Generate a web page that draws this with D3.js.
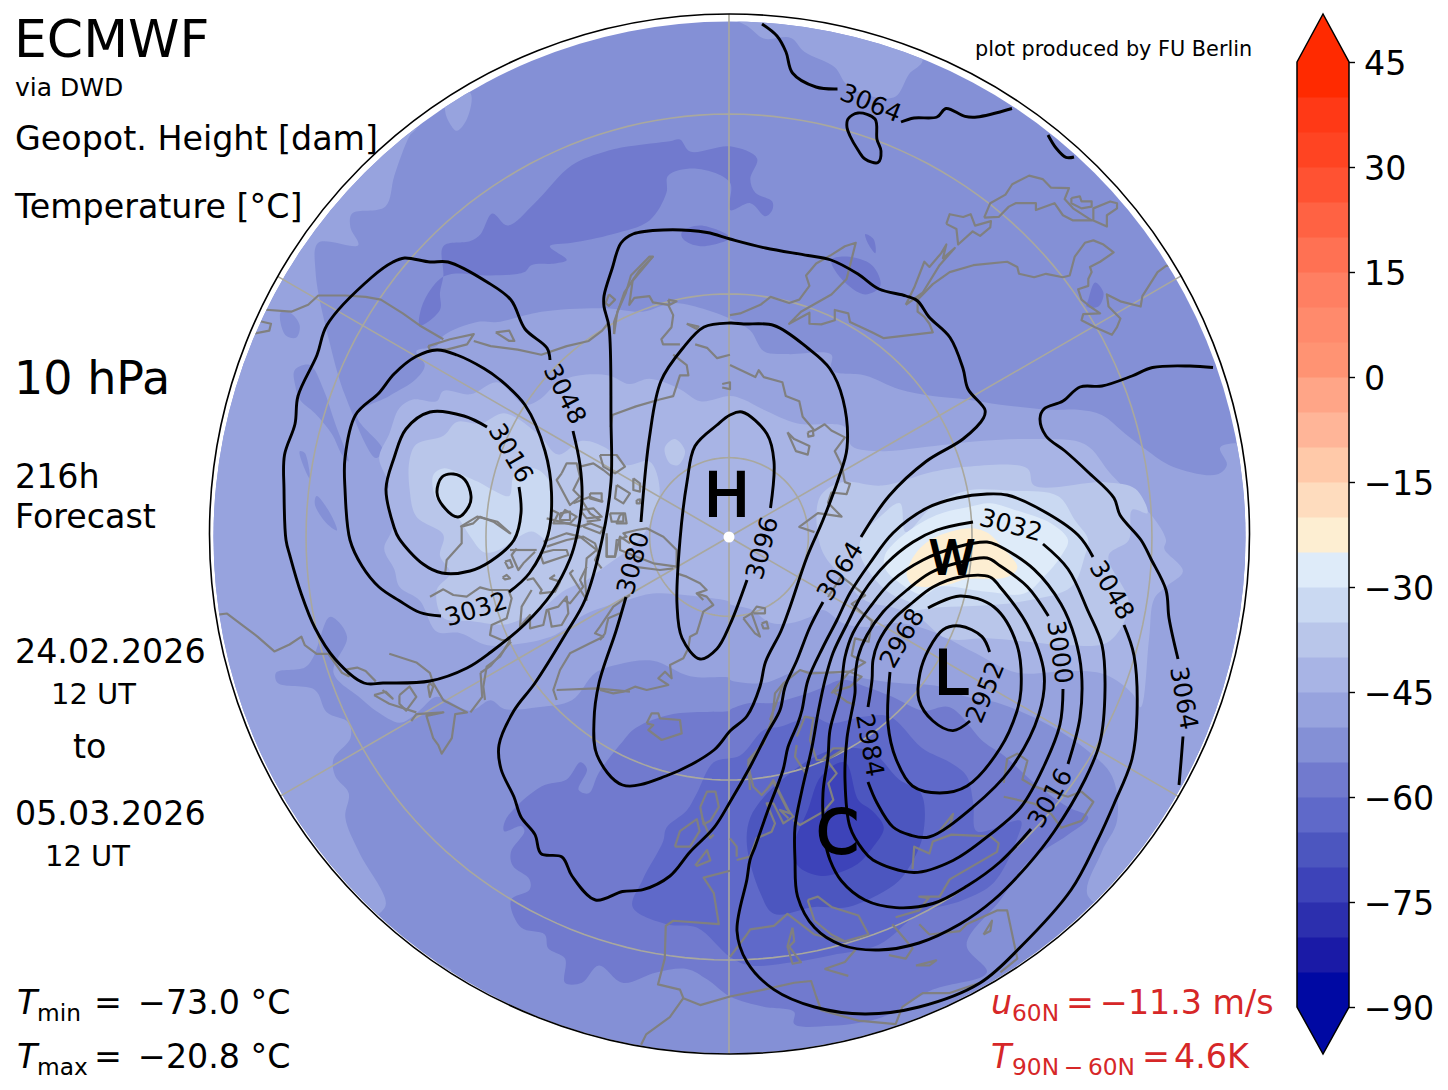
<!DOCTYPE html>
<html><head><meta charset="utf-8">
<script src="https://cdn.jsdelivr.net/npm/d3@7"></script>
<style>
html,body{margin:0;padding:0;background:#fff}
svg{display:block}
text{font-family:"DejaVu Sans",sans-serif;fill:#000}
</style></head><body><svg id="c" width="1448" height="1090"></svg>
<script>
// digitising sheets: each maps a quadrant sheet's grid onto pole-centred map units
const sheet=(kx,ox,ky,oy)=>pts=>pts.map(p=>[kx*p[0]+ox,ky*p[1]+oy]);
const nw=sheet(.338,-529,.3444,-537),ne=sheet(.338,1,.3444,-537),sw=sheet(.338,-529,.3444,-2),se=sheet(.338,1,.3444,-2);
const z7=sheet(1/3,61,1/3,-57),z8=sheet(1/3,1,1/3,123),z9=sheet(1/3,-189,1/3,-97),za=sheet(1/3,-299,1/3,-37),zb=sheet(1/3,-129,1/3,53);

// colour bar
const cbarLevels=d3.range(-90,45,5);
const cbarColors=["#0009a3","#1a1aa6","#2c2fae","#3d43b9","#4c56bf","#5f69c9","#717ace","#8490d6","#97a3de","#a8b4e5","#b9c6ea","#cad9f2","#deebf9","#fdeed2","#fedcbe","#ffc9a9","#ffb598","#ffa587","#ff9373","#ff8a6c","#ff7f62","#ff7153","#ff6243","#ff5232","#ff4422","#ff3916","#ff2a00"];
const cbarTicks=[-90,-75,-60,-45,-30,-15,0,15,30,45];

// temperature regions, painted in this order
const tBase=-55;
const t50West=[[...nw([[640,370],[620,395],[575,510],[548,600],[450,620],[445,660],[468,712],[350,705],[342,790],[385,1000],[430,1150],[520,1330],[540,1305],[465,1205],[560,1150],[640,1100],[665,1060],[640,1020],[700,1005],[720,975],[820,935],[880,935],[1010,905],[1200,895],[1310,905],[1400,880],[1500,900],[1568,925]]),
 ...ne([[60,960],[100,1020],[170,1028],[300,1030],[300,1075],[400,1090],[500,1130],[600,1150],[700,1160],[800,1175],[950,1190],[1030,1190],[1100,1205],[1170,1260],[1230,1305],[1310,1355],[1440,1378],[1470,1350],[1450,1300],[1510,1285],[1600,1280]]),
 ...se([[1650,300],[1600,700],[1300,1100],[1060,1050],[1100,920],[1145,830],[1130,700],[1050,620],[950,555],[800,490],[700,470],[620,440],[500,430],[420,420],[300,400],[200,395],[100,430],[0,420]]),
 ...sw([[1568,415],[1450,410],[1340,365],[1240,375],[1170,400],[1100,480],[1000,500],[900,505],[860,480],[800,510],[700,470],[660,500],[625,530],[590,545],[520,510],[470,470],[395,400],[435,295],[395,240],[380,240],[335,355],[310,385],[225,400],[230,430],[340,450],[375,515],[440,545],[445,590],[395,650],[400,700],[440,750],[430,820],[470,920],[550,1070],[525,1105],[470,1150],[200,1000],[-50,500],[-60,0]]),
 ...nw([[-60,1000],[100,600],[400,300]])]];
const t50Top=[ne([[-40,30],[50,75],[100,112],[180,110],[220,150],[310,195],[345,245],[420,280],[490,280],[530,215],[570,175],[500,60],[200,0]]),
 nw([[725,320],[740,360],[760,380],[790,345],[800,270],[740,260]]),
 sw([[540,1115],[640,1205],[745,1265],[640,1240]])];
const t55Holes=[nw([[240,905],[270,910],[295,945],[285,980],[255,975],[238,935]]),
 nw([[280,1075],[325,1060],[365,1130],[400,1230],[440,1340],[420,1320],[390,1260],[340,1200],[295,1160],[282,1120]]),
 nw([[295,1310],[310,1315],[325,1390],[305,1350]]),
 nw([[345,1440],[385,1490],[405,1540],[375,1520],[340,1465]])];
const t45Center=[[...nw([[1005,1160],[1060,1110],[1120,1090],[1210,1090],[1270,1115],[1330,1100],[1420,1130],[1480,1165],[1568,1150]]),
 ...ne([[40,1160],[100,1190],[200,1230],[340,1240],[360,1295],[450,1310],[560,1300],[650,1290],[750,1280],[920,1275],[1050,1290],[1130,1380],[1250,1500],[1290,1568]]),
 ...se([[1285,40],[1340,105],[1290,150],[1255,185],[1240,300],[1215,500],[1190,460],[1110,405],[1000,395],[850,400],[720,340],[612,285],[503,256],[405,267],[334,256],[275,218],[237,238],[177,256],[120,255],[60,215],[0,200]]),
 ...sw([[1568,195],[1440,175],[1340,170],[1260,190],[1140,230],[1050,290],[950,315],[850,320],[770,285],[700,280],[650,190],[590,150],[575,100],[545,40]]),
 ...nw([[570,1530],[550,1430],[560,1410],[530,1330],[560,1260],[590,1185],[630,1160],[700,1165],[720,1135],[800,1145],[880,1110],[960,1175]])]];
const t40West=[[...nw([[620,1335],[640,1290],[720,1265],[760,1225],[830,1230],[900,1200],[1000,1260],[1060,1320],[1130,1280],[1200,1300],[1260,1350],[1330,1340],[1360,1420],[1340,1500],[1300,1568]]),
 ...sw([[1200,90],[1145,130],[1080,160],[1010,215],[960,240],[900,260],[800,250],[720,240],[700,160],[740,110],[710,60],[720,0]]),
 ...nw([[640,1500],[620,1420]])],
 nw([[1375,1300],[1405,1275],[1435,1310],[1415,1350],[1390,1345]])];
const t40East=[[...ne([[265,1445],[330,1400],[450,1410],[600,1370],[700,1355],[880,1360],[900,1410],[1110,1400],[1200,1420],[1235,1490],[1190,1480],[1180,1568]]),
 ...se([[1120,60],[1180,200],[1120,310],[1000,320],[880,310],[760,300],[640,300],[560,240],[480,210],[400,190],[330,120],[270,40]])]];
const t35West=[[...nw([[690,1380],[720,1360],[790,1385],[835,1405],[870,1425],[915,1440],[930,1380],[990,1360],[1035,1400],[1040,1470],[1030,1568]]),
 ...sw([[980,-10],[880,45],[840,50],[800,5]]),...nw([[760,1500],[700,1450]])]];
const t35East=[[...ne([[520,1545],[600,1470],[700,1425],[830,1425],[970,1440],[1020,1510],[1060,1568]]),
 ...se([[1050,60],[1010,150],[880,190],[750,205],[620,210],[520,220]]),
 ...z7([[370,375],[300,340],[240,280],[210,220],[215,170],[270,110],[330,70]])]];
const t30East=[[...z7([[285,225],[340,165],[440,105],[540,80],[600,70]]),...ne([[840,1480],[950,1520],[1000,1568]]),
 ...se([[980,60],[930,120],[870,170],[760,165],[620,150]]),...z7([[400,345],[330,310],[285,265]])]];
const t25East=[[...z7([[350,285],[362,245],[390,205],[430,175],[500,150],[550,145],[595,160]]),
 ...se([[800,30],[850,95],[820,122],[700,128],[640,145],[540,145]])]];
const t60Patches=[[...nw([[720,715],[800,700],[830,680],[865,620],[910,655],[990,590],[1100,480],[1200,440],[1270,425],[1390,410],[1420,405],[1450,440],[1568,425]]),
 ...ne([[80,460],[60,520],[75,560],[125,585],[125,610],[105,628],[60,590],[0,610]]),
 ...nw([[1568,530],[1470,490],[1385,510],[1380,560],[1330,640],[1220,680],[1100,705],[1035,715],[1085,755],[1050,765],[980,770],[960,790],[860,800],[750,795],[710,810],[660,880],[650,945],[710,900],[710,850],[720,800]])],
 nw([[1425,675],[1480,655],[1568,690],[1480,715],[1430,695]]),
 ne([[300,755],[345,745],[420,770],[445,830],[400,855],[330,810]]),
 ne([[400,680],[425,695],[430,735],[410,710]]),
 ne([[1060,870],[1080,820],[1105,850],[1090,890],[1055,890]]),
 [...sw([[900,860],[905,825],[1010,730],[1085,710],[1125,660],[1145,680],[1120,740],[1150,750],[1180,690],[1250,600],[1290,560],[1400,520],[1568,510]]),
 ...se([[0,508],[59,488],[127,488],[197,470],[256,450],[335,420],[400,440],[480,470],[570,510],[650,500],[750,600],[810,640],[900,720],[1000,790],[1060,820],[1000,870],[880,950],[800,1060],[700,1190],[760,1270],[600,1320],[450,1400],[300,1425],[190,1420],[190,1385],[100,1370],[0,1340]]),
 ...sw([[1500,1290],[1440,1260],[1350,1270],[1250,1300],[1180,1250],[1130,1300],[1080,1300],[1080,1230],[1030,1200],[1020,1160],[950,1140],[920,1060],[975,1030],[975,1000],[925,960],[920,920],[960,860],[950,845]])]];
const t65South=[[...sw([[1520,660],[1470,750],[1440,800],[1380,850],[1370,890],[1310,1000],[1280,1080],[1380,1130],[1470,1140],[1568,1225]]),
 ...se([[60,1250],[190,1240],[300,1220],[440,1190],[560,1100],[690,1060],[780,1010],[850,880],[860,830],[730,860],[720,780],[700,700],[650,660],[570,620],[473,528],[394,528],[296,547],[246,528],[148,557],[100,566],[30,640]])]];
const t70South=[se([[60,820],[110,750],[180,690],[240,650],[320,620],[420,630],[500,710],[565,750],[570,875],[520,980],[480,1020],[350,1080],[250,1080],[130,1100],[90,1040],[50,900]])];
const t75South=[se([[190,900],[230,800],[270,700],[340,660],[380,770],[420,800],[455,850],[420,910],[370,960],[270,990],[200,960]])];

// coastlines
const coastNW=[[[175,898],[270,905],[320,885],[350,858],[430,858],[490,862],[535,870],[600,910],[650,945],[720,985]],
[[675,1005],[740,985],[810,970],[790,1000],[730,1015],[680,1015],[675,1005]],
[[810,990],[860,1005],[940,1015],[1010,1030],[1085,1005],[1150,990],[1190,960],[1210,935]],
[[875,965],[915,960],[930,990],[915,990],[875,965]],
[[165,930],[210,940],[205,960],[145,972]],
[[1210,855],[1228,870],[1210,888],[1200,880],[1210,855]],
[[1225,970],[1235,905],[1260,850],[1275,800],[1330,745],[1340,745],[1280,815],[1270,885],[1285,865],[1330,860],[1340,878],[1385,885],[1400,915],[1395,950],[1365,985],[1370,1000],[1420,1000]],
[[1225,970],[1225,935],[1255,850],[1300,785],[1340,745]],
[[1385,870],[1410,875],[1390,885],[1385,870]],
[[1440,940],[1475,948],[1470,955],[1440,940]],
[[1400,1030],[1440,1060],[1445,1090],[1420,1090],[1400,1150],[1360,1160],[1290,1180],[1220,1205],[1215,1240]],
[[1465,1000],[1500,1010],[1530,1040],[1568,1030]],
[[1545,1115],[1568,1110],[1568,1130],[1545,1125]],
[[770,1530],[820,1500],[880,1515],[920,1550]]];
const coastNE=[[[752,632],[770,590],[815,565],[835,535],[885,510],[925,520],[950,545],[1003,546],[990,578],[1015,605],[1070,640]],
[[752,632],[795,630],[825,600],[845,590],[905,590],[905,610],[960,590],[985,625],[1015,640],[1075,640],[1115,658],[1115,625],[1145,605],[1145,590],[1125,585],[1075,605],[1075,640]],
[[1010,575],[1035,570],[1040,585],[1070,585],[1070,600],[1040,605],[1010,590],[1010,575]],
[[640,650],[650,622],[690,630],[712,622],[725,655],[772,642],[770,660],[740,685],[718,672],[675,710],[670,665],[640,650]],
[[520,885],[545,835],[575,760],[590,775],[625,735],[640,710],[630,750],[665,720],[620,770],[570,850],[520,885]],
[[555,870],[600,825],[650,790],[720,770],[820,760],[850,775],[855,795],[900,805],[935,795],[985,805],[1005,800],[1020,745],[1050,705],[1075,698],[1105,710],[1135,733],[1095,760],[1065,775],[1070,790],[1060,810],[1060,830],[1030,840],[1040,870],[1065,890],[1095,910],[1045,912],[1040,930],[1080,950],[1130,972],[1145,950],[1155,925],[1120,890],[1115,855],[1155,875],[1215,890],[1220,860],[1265,790],[1290,772],[1310,770]],
[[555,870],[555,905],[575,920],[590,940],[600,965],[455,982],[420,965],[355,935],[350,910],[310,900],[310,930],[270,942],[235,940],[235,908],[175,940],[210,905],[300,855],[345,810],[372,705],[340,715],[300,740],[255,765],[225,800],[235,830],[205,870],[175,880],[120,862],[90,885],[30,910],[0,915]],
[[170,1255],[195,1310],[230,1320],[235,1295],[190,1275],[170,1255]],
[[230,1255],[245,1250],[247,1265],[232,1268],[230,1255]],
[[0,1060],[75,1095],[85,1075],[100,1095],[155,1110],[165,1150],[205,1165],[215,1210],[250,1250],[280,1232],[300,1250],[340,1270],[310,1310],[330,1350],[340,1400],[355,1405],[345,1435],[300,1430],[290,1460],[330,1500],[260,1490],[205,1530],[250,1545]]];
const coastSW=[[[48,232],[80,228],[130,265],[170,295],[220,338],[265,318],[300,295],[310,320],[345,345],[380,345],[420,400],[440,410],[435,390],[465,385],[490,395],[520,425]],
[[560,345],[640,370],[680,400],[690,430],[720,480],[790,515],[755,520],[745,590],[715,635],[705,610],[690,590],[670,525],[720,515],[640,520],[625,540]],
[[515,465],[550,455],[570,475],[540,450]],[[515,465],[560,490],[640,515]],
[[590,465],[620,440],[640,470],[610,510],[590,490],[590,465]],
[[680,430],[690,440],[680,470],[675,440],[680,430]],
[[830,400],[860,380],[920,310]],[[830,400],[835,470],[800,515]],
[[1480,790],[1500,745],[1525,745],[1535,790],[1510,830],[1490,840],[1480,790]],
[[1405,905],[1420,860],[1470,825],[1478,860],[1450,905],[1405,905]],
[[1485,820],[1510,880],[1520,870]],
[[1465,960],[1500,915],[1510,945],[1468,962]],
[[1568,975],[1490,995],[1520,1040],[1535,1130],[1400,1120],[1378,1135],[1375,1230],[1355,1305],[1420,1320],[1430,1345],[1480,1365],[1568,1340]],
[[1430,1345],[1390,1400],[1320,1450],[1305,1480]]];
const coastSE=[[[540,970],[545,905],[590,925],[600,890],[655,870],[770,875],[795,895],[790,920],[720,960],[650,1000],[620,1050],[560,1050],[590,1055]],
[[620,860],[660,810],[650,850],[620,860]],
[[810,720],[820,650],[850,635],[880,655],[865,710],[900,730],[950,745],[1000,760],[1040,745],[1075,775],[1040,830],[980,850],[950,810],[900,780],[810,760]],
[[230,1060],[260,1050],[300,1080],[380,1105],[410,1160],[340,1180],[300,1160],[250,1120],[230,1060]],
[[490,1110],[560,1090],[590,1050]],[[480,1130],[540,1200],[520,1230],[470,1220]],
[[560,1130],[590,1160],[680,1150],[700,1130],[790,1090],[820,1090],[850,1230],[800,1270]],
[[750,1160],[775,1120],[770,1150],[750,1160]],[[550,1250],[610,1235],[590,1250],[550,1250]],
[[0,1225],[50,1160],[60,1145],[130,1135],[170,1100],[250,1160],[340,1180]],
[[185,1140],[190,1180],[175,1195],[210,1240],[185,1245],[170,1195],[185,1140]],
[[280,1260],[340,1240],[375,1200]],[[280,1260],[350,1280]],
[[0,1340],[100,1320],[190,1300],[240,1295],[255,1340],[270,1380],[380,1410],[490,1420],[510,1370],[570,1330],[650,1330],[740,1300]],
[[290,180],[330,120],[400,175],[360,200],[420,250],[410,310],[370,300],[360,350],[400,370],[350,400],[300,460]]];
const coastZ8=[[[120,180],[160,70],[210,30],[240,40],[360,35],[395,50],[360,80],[310,95],[350,125],[375,135]],
[[60,340],[55,300],[100,250],[125,180]],
[[60,340],[70,380],[95,405],[130,365],[170,445],[190,470],[160,490],[130,430],[110,430],[135,490],[125,515],[80,535],[60,590],[20,600]],
[[200,230],[225,170],[250,175],[240,240],[260,300],[290,300],[345,265],[310,265],[290,285],[275,300]],
[[200,255],[195,290],[230,345]],
[[290,300],[320,340],[295,370],[310,420],[280,455],[210,495],[190,480]],
[[140,380],[180,460],[150,450],[175,475]],[[0,535],[20,560],[20,590]]];
const coastZ9=[[[65,100],[80,70],[110,70],[120,110],[100,150],[120,170],[90,195],[50,120],[65,100]],
[[120,80],[160,70],[190,90],[215,110]],[[150,160],[185,160],[185,185],[150,175],[150,160]],
[[100,190],[150,170],[190,185]],[[180,45],[230,45],[255,80],[225,100],[190,80],[180,45]],
[[230,135],[270,160],[250,190],[225,175],[230,135]],[[280,115],[300,130],[300,155],[280,150],[280,115]],
[[290,180],[300,178],[300,190],[290,190],[290,180]],[[60,220],[90,215],[90,240],[60,240],[60,220]],
[[120,210],[160,205],[185,230],[140,235],[120,210]],[[20,235],[120,260],[150,250],[190,265],[180,280],[130,260]],
[[210,220],[250,220],[250,245],[215,245],[210,220]],[[20,320],[80,300],[130,290],[165,310],[175,340],[165,360],[185,385]],
[[200,290],[200,350],[225,350],[230,300],[260,290],[250,280],[290,270],[320,265],[370,290],[410,330],[410,380],[340,370],[290,350],[240,330],[240,290]],
[[410,400],[440,410],[480,430],[500,450],[470,460],[490,480]],[[140,380],[120,420],[130,440],[90,490],[70,480]],
[[280,380],[360,390],[400,385]]];
const coastZa=[[[45,225],[50,180],[95,130],[95,80],[130,70],[150,50],[190,65],[240,100]],
[[0,290],[40,268],[70,285],[110,290],[150,262],[180,270],[235,270],[245,295],[230,355],[185,375],[180,405],[215,420],[240,420],[210,470],[170,500],[160,560],[165,600]],
[[240,150],[290,150],[320,150]],[[260,145],[245,165],[265,210],[280,190],[315,155]],
[[225,185],[240,180],[248,200],[235,205],[225,185]],[[218,232],[230,225],[240,235],[225,238],[218,232]],
[[290,240],[310,235],[335,270],[330,280],[375,275],[390,245],[360,235],[375,225]],
[[305,270],[275,320],[270,380],[300,345],[300,385],[340,375],[350,330],[385,320],[410,290],[415,340],[395,375],[365,380],[355,330]],
[[330,160],[370,150],[410,150],[415,165],[340,190],[330,160]],
[[340,125],[410,100],[450,110],[500,150],[470,175],[465,240],[470,300],[420,220],[430,210]],
[[365,30],[385,40],[370,70],[420,70],[440,50],[405,30],[390,55]],
[[455,0],[480,40],[510,60],[470,65]],[[530,100],[530,170],[555,170],[570,110],[600,130]],[[570,45],[585,40],[590,70],[560,70],[570,45]],
[[600,285],[550,320],[510,380],[495,400],[520,410],[480,430],[420,460],[390,510],[370,570],[380,600]],
[[380,570],[500,565],[600,575]]];
const coastZb=[[[0,300],[40,310],[70,305],[105,290],[140,300],[205,285],[175,265],[195,245],[215,265],[210,225],[250,205],[265,175],[270,140],[290,130],[310,65],[340,45],[320,20],[290,10]],
[[140,400],[155,370],[175,370],[180,385],[240,390],[245,430],[185,450],[145,420],[160,405],[140,400]],
[[455,70],[470,50],[495,55],[495,70],[460,70]],[[430,85],[455,70],[480,140],[465,130],[430,85]],[[485,100],[500,95],[505,115],[490,115],[485,100]],
[[0,150],[15,130],[20,105],[25,85],[60,70]],
[[450,600],[445,520],[490,460],[515,400],[525,310],[550,280]],[[500,600],[520,570],[535,600]]];

// geopotential height contours in map units (dam)
const h3064Top=[[33,-513],[48,-501],[57,-485],[63.5,-464],[87,-450],[108.5,-448]];
const h3064TopB=[[172,-415],[185,-419],[208,-420],[217,-428.5],[236,-420.6],[248,-420],[283,-428.5]];
const h3064Loop=[[119,-418],[129,-424],[146,-418],[148,-397.5],[152,-386],[149,-374.5],[136,-378],[129,-387],[121,-401],[118,-409.5]];
const h3064Edge=[[319,-402],[327,-389],[337,-379.6],[345,-380]];
const h3064East=[[484,-169.5],[461,-171],[423.5,-169.5],[403,-161],[373,-151],[351,-150],[334,-136],[315,-128],[311,-118.5],[317,-101],[336,-86],[359,-65],[385,-39],[391,-22],[412,3],[422,22],[437,53],[440,81],[449,122]];
const h3064EastB=[[454,199.5],[452,225],[450,248]];
const h3064Main=[[132,0],[160,-41],[197,-75.5],[234,-98],[254.5,-119],[256,-127],[239,-148],[234,-168.5],[221,-199.5],[200,-220],[188.6,-236],[177,-241],[150,-248],[129,-263],[102,-277],[79,-281.5],[36.5,-289],[1,-298],[-22,-304.5],[-66,-307],[-96,-303],[-108,-294],[-117,-268],[-125,-241],[-125,-230.5],[-120,-210],[-118,-117],[-118,-55],[-127,3],[-144,63],[-164,98],[-194,146],[-215,173.6],[-230,208],[-228,232],[-215,260],[-208,280],[-194,297.6],[-188,316.6],[-167,320],[-157,339],[-133.5,363],[-106.5,354.5],[-86,352.7],[-59,339],[-39,315],[-15,290.7],[1,265],[21,230],[39,195],[51,173],[56,150],[68,123],[81,90],[94,65]];
const h3048West=[[-179,-177],[-182,-189],[-204,-208],[-218,-237],[-242,-255],[-281,-275],[-299,-275],[-324.5,-279],[-336,-275],[-357,-260],[-402,-212],[-412,-182],[-431,-141],[-434,-113],[-444.5,-82],[-445,-48],[-443,3],[-439,19],[-428,56],[-414,91],[-394,122],[-365,146],[-346,146],[-299,144],[-262,131],[-238,115],[-204,87],[-177,56],[-159,22],[-152,-2],[-147,-38],[-149,-72],[-156,-106]];
const h3032West=[[-220,55],[-199.5,36],[-181,-2],[-177.5,-44.5],[-184,-86],[-204,-132],[-230,-158],[-245,-168.5],[-272,-182],[-292,-187],[-313,-180.5],[-335,-163],[-350,-144],[-373.5,-122],[-384,-79],[-384,-48],[-379,3],[-367,29],[-350,50],[-330,63.5],[-309,75.5],[-288,79]];
const h3016West=[[-210,-50],[-208,-24],[-215,3],[-238,24],[-259,34],[-287,36],[-306,27],[-330,1.4],[-335,-10],[-343,-48],[-335,-79],[-323,-108],[-299,-125],[-265,-121],[-242,-110]];
const h3000West=[[-275.5,-63],[-264,-57],[-258,-41],[-260,-31],[-271,-20],[-286,-31],[-292,-44.5],[-287,-60]];
const h3080=[[-103,60],[-113,94],[-130,146],[-135,184],[-132,218],[-106.5,248],[-63,239],[-15,213],[1,194],[18,179],[31,149.5],[36.5,125],[52,94],[61,70],[78,20],[94,-17],[109,-57],[118,-89],[114,-137.5],[100.7,-168.5],[78.7,-189],[45,-211.5],[14.5,-213],[1,-214],[-25,-210],[-46,-189],[-68,-156],[-79.5,-100],[-88,-15]];
const h3096=[[41.5,-29],[45,-75.5],[38,-103],[13,-125],[1,-122],[-12,-112],[-34,-91],[-42,-55],[-49,3],[-52,67],[-47,101],[-29,122],[-12,111.7],[1,87.5],[18,43]];
const h3048East=[[395,88],[405,118.5],[408,177],[403,222],[385,267],[368,304.5],[342,353],[292,409.5],[251,446],[190,470],[136,477],[85.5,470],[45,452.6],[18,425],[8,394],[18,342],[21,323],[26,310],[39,273],[54,233],[59,210],[69,186],[73,173],[79,143],[94,110],[108,83],[121,56],[141,26],[164,-4],[198,-29],[228,-39],[258,-43],[278,-42],[305,-31],[349,-2],[364,20]];
const h3032East=[[314,7],[339,32],[359,74],[373,108],[376,153],[371,205],[356,242.5],[325.5,294],[298.4,328.6],[264.6,363],[231,387],[190,406],[150,413],[112.5,408],[85.5,390.6],[68.6,359.6],[66,323],[66,290],[73,253],[83,210],[89,176],[96,143],[104,116],[118,87],[134,56],[158,26],[184,5],[208,-7],[244,-15]];
const h3016East=[[339,227],[351,180.5],[352.5,136],[346,101],[332,67],[305,32.4],[268,8],[258,5],[228,10],[194,23],[164,43],[141,70],[124,96],[116,120],[113,143],[111,156],[101,193],[99,220],[94,256],[96,303],[101,323],[112.5,344],[136,363],[167,370.6],[204,366.5],[238,349],[271,325],[302,292]];
const h3000East=[[319.4,79],[298.4,49.7],[271.4,29],[258,21],[228,26],[201,36],[178,53],[154,75],[138,98],[129,120],[126,143],[126,156],[118,201],[116,243],[121,290],[134,313],[144,323],[185,335.5],[224,323.5],[261,297.6],[292,270],[315,229],[331,187.4],[334,152]];
const h2984=[[139,170],[143,143],[144,123],[149,106],[164,83],[183,66],[204,50],[231,40],[261,40],[271,50],[298,87.5],[315,136],[310,177],[281.5,232],[244,270],[200,300],[181,298],[164,290],[148,266],[139,245]];
const h2968=[[199,71],[231,59],[265,70],[288,108],[292,153],[288,174],[271,211.5],[238,249],[210.6,256],[183.5,249],[167,222],[159,187],[161,135]];
const h2952=[[260.6,115],[253,99.6],[231,89],[214,92.7],[200,111.7],[191,136],[190,163],[204,184],[224,193.6],[241,184]];
const contourOpen=[h3064Top,h3064TopB,h3064Edge,h3064East,h3064EastB,h3064Main,h3048West,h3032West,h3016West,h3080,h3096,h3048East,h3032East,h3016East,h3000East,h2984,h2968,h2952];
const contourClosed=[h3064Loop,h3000West];

// contour labels
const labelText=["3064","3064","3064","3048","3048","3032","3032","3016","3016","3000","2984","2968","2952","3080","3096"];
const labelX=[142,111,455,-164,383,-253,282,-218,321,331,141,173,256,-96,33];
const labelY=[-434,34,161,-143,53,72,-12,-84,261,115,208,101,155,26,11];
const labelAngle=[22,-58,80,63,60,-17,15,60,-60,82,80,-60,-68,-75,-75];

// pressure-system letters
const sysText=["H","L","C","W"];
const sysX=[-2,222,108.5,223];
const sysY=[-21,157,316,36.5];
const sysSize=[61,61,61,46];

const latCircles=[80,60,40];
const meridians=[0,60,120,180,240,300];

const svg=d3.select("#c");
const mx=d3.scaleLinear().domain([-520,520]).range([209,1249]);
const my=d3.scaleLinear().domain([-520,520]).range([17,1057]);
const defs=svg.append("defs");
defs.append("clipPath").attr("id","disk").append("circle").attr("cx",mx(.5)).attr("cy",my(.5)).attr("r",516);
defs.append("clipPath").attr("id","frame").append("circle").attr("cx",mx(.5)).attr("cy",my(-3)).attr("r",520);

const colorOf=d3.scaleThreshold().domain(cbarLevels.slice(1)).range(cbarColors);
const ring=d3.line().x(d=>mx(d[0])).y(d=>my(d[1])).curve(d3.curveCatmullRomClosed.alpha(.5));
const open=d3.line().x(d=>mx(d[0])).y(d=>my(d[1])).curve(d3.curveCatmullRom.alpha(.5));
const straight=d3.line().x(d=>mx(d[0])).y(d=>my(d[1])).curve(d3.curveLinear);

const fillG=svg.append("g").attr("clip-path","url(#disk)");
fillG.append("circle").attr("cx",mx(.5)).attr("cy",my(.5)).attr("r",517).attr("fill",colorOf(tBase));
[[-50,t50West],[-50,t50Top],[-55,t55Holes],[-45,t45Center],[-40,t40West],[-40,t40East],[-35,t35West],[-35,t35East],[-30,t30East],[-25,t25East],[-60,t60Patches],[-65,t65South],[-70,t70South],[-75,t75South]].forEach(([lev,rings])=>{
  fillG.selectAll(null).data(rings).join("path").attr("d",ring).attr("fill",colorOf(lev));
});

// graticule through a polar stereographic projection
const proj=d3.geoStereographic().rotate([0,-90]).scale(907).translate([mx(0),my(0)]).clipAngle(120);
const geo=d3.geoPath(proj);
const gratG=svg.append("g").attr("clip-path","url(#frame)").attr("fill","none").attr("stroke","#a9a89e").attr("stroke-width",1.6);
latCircles.forEach(l=>gratG.append("path").attr("d",geo(d3.geoCircle().center([0,90]).radius(90-l)())));
meridians.forEach(m=>gratG.append("path").attr("d",geo({type:"LineString",coordinates:[[m,89.99],[m,30]]})));

const coastG=svg.append("g").attr("clip-path","url(#disk)").attr("fill","none").attr("stroke","#808080").attr("stroke-width",2.2).attr("stroke-linejoin","round");
[[coastNW,nw],[coastNE,ne],[coastSW,sw],[coastSE,se],[coastZ8,z8],[coastZ9,z9],[coastZa,za],[coastZb,zb]].forEach(([lines,fn])=>{
  coastG.selectAll(null).data(lines.map(fn)).join("path").attr("d",straight);
});

const contG=svg.append("g").attr("fill","none").attr("stroke","#000").attr("stroke-width",2.9).attr("stroke-linejoin","round");
contG.selectAll(null).data(contourOpen).join("path").attr("d",open);
contG.selectAll(null).data(contourClosed).join("path").attr("d",ring);

svg.append("g").selectAll("text").data(labelText).join("text").text(d=>d)
  .attr("font-size",25).attr("text-anchor","middle").attr("dominant-baseline","central")
  .attr("transform",(d,i)=>`translate(${mx(labelX[i])},${my(labelY[i])}) rotate(${labelAngle[i]})`);

svg.append("g").selectAll("text").data(sysText).join("text").text(d=>d)
  .attr("x",(d,i)=>mx(sysX[i])).attr("y",(d,i)=>my(sysY[i]))
  .attr("font-size",(d,i)=>sysSize[i]).attr("text-anchor","middle")
  .attr("stroke","#000").attr("stroke-width",2);

svg.append("circle").attr("cx",mx(0)).attr("cy",my(0)).attr("r",5.5).attr("fill","#fff");
svg.append("circle").attr("cx",mx(.5)).attr("cy",my(-3)).attr("r",520).attr("fill","none").attr("stroke","#000").attr("stroke-width",1.6);

// colour bar
const cy=d3.scaleLinear().domain([-90,45]).range([1007,62]);
const cb=svg.append("g");
const cx0=1297,cx1=1349;
cb.selectAll("rect").data(cbarLevels).join("rect").attr("x",cx0).attr("width",cx1-cx0)
  .attr("y",d=>cy(d+5)).attr("height",d=>cy(d)-cy(d+5)+.5).attr("fill",d=>colorOf(d));
const extend=[[45,14,cbarColors[26]],[-90,1054,cbarColors[0]]];
cb.selectAll("path.tip").data(extend).join("path").attr("class","tip")
  .attr("d",d=>`M${cx0},${cy(d[0])}L${(cx0+cx1)/2},${d[1]}L${cx1},${cy(d[0])}Z`).attr("fill",d=>d[2]);
cb.append("path").attr("fill","none").attr("stroke","#000").attr("stroke-width",1.5)
  .attr("d",`M${cx0},${cy(45)}L${(cx0+cx1)/2},14L${cx1},${cy(45)}L${cx1},${cy(-90)}L${(cx0+cx1)/2},1054L${cx0},${cy(-90)}Z`);
const ax=svg.append("g").attr("transform",`translate(${cx1},0)`).call(d3.axisRight(cy).tickValues(cbarTicks).tickSize(6).tickPadding(9));
ax.select(".domain").remove();
ax.selectAll("line").attr("stroke-width",1.4);
ax.selectAll("text").attr("font-size",33.3).attr("font-family",'"DejaVu Sans"').attr("dy","0.36em");

// annotation text
const textRows=[["ECMWF",14,57,52],["via DWD",15,96,25],["Geopot. Height [dam]",15,150,33.3],["Temperature [°C]",15,218,33.3],["plot produced by FU Berlin",975,56,20.8],["10 hPa",14,394,46],["216h",15,488,33.3],["Forecast",15,528,33.3],["24.02.2026",15,663,33.3],["12 UT",51,704,29],["to",73,758,33.3],["05.03.2026",15,825,33.3],["12 UT",45,866,29]];
svg.append("g").selectAll("text").data(textRows).join("text").text(d=>d[0]).attr("x",d=>d[1]).attr("y",d=>d[2]).attr("font-size",d=>d[3]);
const statRows=[["T",17,1014,33.3,"italic"],["min",37,1021,23.3,"normal"],["=",94,1014,33.3,"normal"],["−73.0 °C",138,1014,33.3,"normal"],["T",17,1068,33.3,"italic"],["max",37,1075,23.3,"normal"],["=",94,1068,33.3,"normal"],["−20.8 °C",138,1068,33.3,"normal"]];
svg.append("g").selectAll("text").data(statRows).join("text").text(d=>d[0]).attr("x",d=>d[1]).attr("y",d=>d[2]).attr("font-size",d=>d[3]).attr("font-style",d=>d[4]);
const windRows=[["u",991,1014,33.3,"italic"],["60N",1012,1021,23.3,"normal"],["=",1066,1014,33.3,"normal"],["−11.3 m/s",1100,1014,33.3,"normal"],["T",991,1068,33.3,"italic"],["90N\u2009−\u200960N",1012,1075,23.3,"normal"],["=",1142,1068,33.3,"normal"],["4.6K",1174,1068,33.3,"normal"]];
svg.append("g").selectAll("text").data(windRows).join("text").text(d=>d[0]).attr("x",d=>d[1]).attr("y",d=>d[2]).attr("font-size",d=>d[3]).attr("font-style",d=>d[4]).style("fill","#d62728");
</script></body></html>
